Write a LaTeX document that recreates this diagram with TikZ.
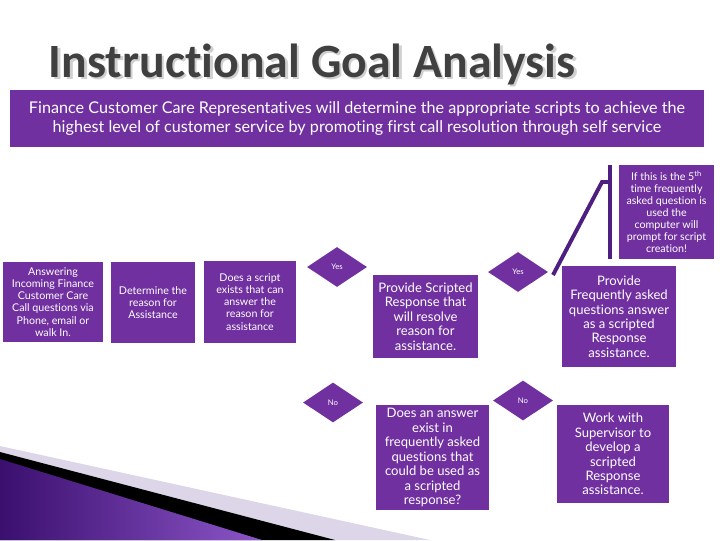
\documentclass[tikz,border=0pt]{standalone}
\usepackage{fontspec}
\setmainfont[Ligatures={NoCommon}]{Lato}
\newfontfamily\titlefont[Ligatures={NoCommon}]{Carlito}
\usetikzlibrary{shapes.geometric}

\definecolor{goalpurple}{HTML}{7030A0}
\definecolor{bardark}{HTML}{4E1F80}
\definecolor{titlegray}{HTML}{404040}
\definecolor{shadowgray}{HTML}{D0D0D0}
\definecolor{swooshlilac}{HTML}{DCD6E8}
\definecolor{swooshdark}{HTML}{3A0F6E}
\definecolor{swooshlight}{HTML}{8C55C8}

\tikzset{
  wd/.style={minimum width=#1*0.025cm},
  ht/.style={minimum height=#1*0.025cm},
}

\newcommand{\shadowtitle}[1]{\makebox[0pt][l]{\hspace{1.7pt}\raisebox{-1.7pt}{\color{shadowgray}#1}}#1}

\begin{document}
\begin{tikzpicture}[x=0.025cm,y=-0.025cm]
      \useasboundingbox (0,0) rectangle (720,540);

      % bottom left swoosh
      \fill[swooshlilac] (0,446) -- (430,540) -- (0,540) -- cycle;
      \fill[black] (0,452) -- (335,540) -- (0,540) -- cycle;
      \shade[left color=swooshdark, right color=swooshlight] (0,459) -- (262,540) -- (0,540) -- cycle;

      % title and goal statement
      \node (title) [anchor=base west, text=titlegray, font=\titlefont\bfseries\fontsize{34}{38}\selectfont] at (44,77) {\shadowtitle{Instructional Goal Analysis}};
      \node (goal) [fill=goalpurple, text=white, align=center, wd=694, ht=57, font=\fontsize{11.5}{13.5}\selectfont] at (357,118.5)
        {Finance Customer Care Representatives will determine the appropriate scripts to achieve the\\
         highest level of customer service by promoting first call resolution through self service};

      \begin{scope}[every node/.style={fill=goalpurple, text=white, align=center, inner sep=1pt}]
        \begin{scope}[font=\fontsize{7.6}{8.6}\selectfont]
          \node (answer) [wd=100, ht=80] at (53,302) {Answering\\Incoming Finance\\Customer Care\\Call questions via\\Phone, email or\\walk In.};
          \node (reason) [wd=84, ht=81] at (153,302.5) {Determine the\\reason for\\Assistance};
          \node (exists) [wd=92, ht=82] at (250,302) {Does a script\\exists that can\\answer the\\reason for\\assistance};
          \node (fifth)  [wd=95, ht=94] at (666.5,212) {If this is the 5\textsuperscript{th}\\time frequently\\asked question is\\used the\\computer will\\prompt for script\\creation!};
        \end{scope}
        \begin{scope}[font=\fontsize{9.3}{10.3}\selectfont]
          \node (scripted) [wd=105, ht=83]  at (425.5,316.5) {Provide Scripted\\Response that\\will resolve\\reason for\\assistance.};
          \node (faq)      [wd=114, ht=101] at (619,316.5) {Provide\\Frequently asked\\questions answer\\as a scripted\\Response\\assistance.};
          \node (faqcheck) [wd=113, ht=105] at (432.5,457.5) {Does an answer\\exist in\\frequently asked\\questions that\\could be used as\\a scripted\\response?};
          \node (super)    [wd=112, ht=98]  at (613,454) {Work with\\Supervisor to\\develop a\\scripted\\Response\\assistance.};
        \end{scope}
      \end{scope}

      \begin{scope}[every node/.style={diamond, aspect=1.5, fill=goalpurple, text=white, inner sep=0pt, wd=60, ht=40, font=\fontsize{5.5}{6}\selectfont}]
        \node (yes1) at (337,267) {Yes};
        \node (yes2) at (518,272) {Yes};
        \node (no1)  at (333,402.5) {No};
        \node (no2)  at (523,400.5) {No};
      \end{scope}

      % accent bar callout
      \fill[bardark] (608,165) rectangle (612,259);
      \coordinate (tip) at (553,275);
      \coordinate (elbow) at (602,182);
      \coordinate (barhit) at (608,182);
      \draw[bardark, line width=2.8pt] (tip) -- (elbow) -- (barhit);

    \end{tikzpicture}
\end{document}
